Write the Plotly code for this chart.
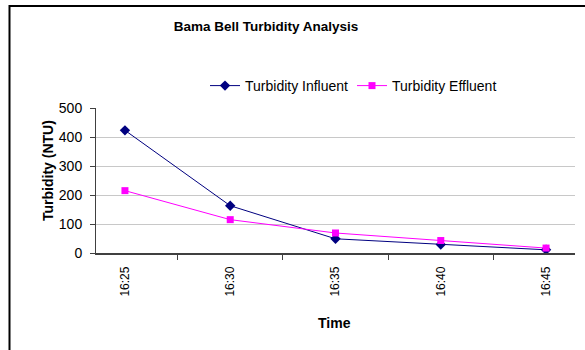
import plotly.graph_objects as go

times = ["16:25", "16:30", "16:35", "16:40", "16:45"]
influent = [423, 163, 49, 29, 11]
effluent = [215, 115, 69, 43, 17]

FONT = "Liberation Sans, Arial, sans-serif"
W, H = 585, 350
L, R, T, B = 96, 10, 108, 97
pw, ph = W - L - R, H - T - B

def px_x(x):
    return (x - L) / pw

def px_y(y):
    return (H - B - y) / ph

fig = go.Figure()
fig.add_trace(go.Scatter(
    x=times, y=influent, name="Turbidity Influent", mode="lines+markers",
    line=dict(color="#000080", width=1),
    marker=dict(symbol="diamond", size=8, color="#000080"),
))
fig.add_trace(go.Scatter(
    x=times, y=effluent, name="Turbidity Effluent", mode="lines+markers",
    line=dict(color="#FF00FF", width=1),
    marker=dict(symbol="square", size=7, color="#FF00FF"),
))

border = dict(color="black", width=2)
fig.update_layout(
    width=W, height=H,
    margin=dict(l=L, r=R, t=T, b=B, autoexpand=False),
    paper_bgcolor="white", plot_bgcolor="white",
    font=dict(family=FONT, size=12, color="black"),
    title=dict(text="<b>Bama Bell Turbidity Analysis</b>", x=px_x(266), xref="paper",
               xanchor="center", y=1 - 26 / H, yref="container", yanchor="middle",
               font=dict(size=13.5, family=FONT, color="black")),
    showlegend=True,
    legend=dict(orientation="h", x=px_x(205), y=px_y(86), xanchor="left", yanchor="middle",
                font=dict(size=14), bgcolor="rgba(0,0,0,0)", itemwidth=30,
                tracegroupgap=0, entrywidth=102),
    shapes=[
        dict(type="line", xref="paper", yref="paper", layer="above",
             x0=px_x(9), x1=px_x(W + 5), y0=px_y(6), y1=px_y(6), line=border),
        dict(type="line", xref="paper", yref="paper", layer="above",
             x0=px_x(9.5), x1=px_x(9.5), y0=px_y(5), y1=px_y(H + 5), line=border),
    ],
    annotations=[
        dict(text="<b>Turbidity (NTU)</b>", xref="paper", yref="paper",
             x=px_x(48), y=px_y(171), xanchor="center", yanchor="middle",
             textangle=-90, showarrow=False, font=dict(size=14)),
        dict(text="<b>Time</b>", xref="paper", yref="paper",
             x=px_x(334), y=px_y(323), xanchor="center", yanchor="middle",
             showarrow=False, font=dict(size=14)),
    ],
)

fig.update_xaxes(
    type="category", tickson="boundaries", ticks="outside", ticklen=5,
    tickcolor="#404040", tickangle=-90, showline=True, linecolor="#404040",
    linewidth=1.5, showgrid=False, tickfont=dict(size=12), ticklabelstandoff=7,
)
fig.update_yaxes(
    range=[0, 500], dtick=100, ticks="outside", ticklen=5, tickcolor="#404040",
    showline=True, linecolor="#404040", linewidth=1, showgrid=True,
    gridcolor="#C8C8C8", gridwidth=1, zeroline=False, tickfont=dict(size=14),
    ticklabelstandoff=5,
)

fig.write_html("out.html", config={"displayModeBar": False},
               post_script="document.body.style.margin='0';document.body.style.overflow='hidden';")
